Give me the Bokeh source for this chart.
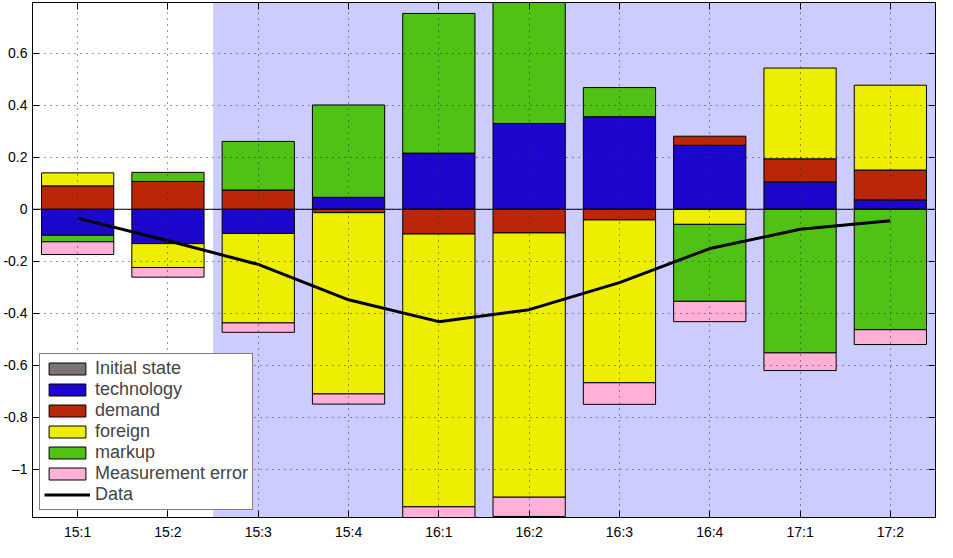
import numpy as np
from bokeh.plotting import figure
from bokeh.models import (Range1d, FixedTicker, LinearAxis, BoxAnnotation, Span,
                          Legend, LegendItem, ColumnDataSource)
from bokeh.embed import file_html
from bokeh.resources import INLINE

periods = ["15:1", "15:2", "15:3", "15:4", "16:1", "16:2", "16:3", "16:4", "17:1", "17:2"]
initial_state = [0.0, 0.0, 0.0, 0.0, 0.0, 0.0, 0.0, 0.0, 0.0, 0.0]
technology = [-0.100, -0.132, -0.093, 0.046, 0.216, 0.330, 0.356, 0.246, 0.105, 0.036]
demand = [0.090, 0.107, 0.074, -0.013, -0.095, -0.091, -0.041, 0.035, 0.089, 0.115]
foreign = [0.050, -0.092, -0.344, -0.697, -1.049, -1.016, -0.626, -0.058, 0.349, 0.326]
markup = [-0.025, 0.035, 0.187, 0.355, 0.537, 0.465, 0.112, -0.296, -0.552, -0.463]
measurement_error = [-0.049, -0.037, -0.036, -0.039, -0.041, -0.074, -0.083, -0.078, -0.068, -0.057]
data = [-0.034, -0.121, -0.212, -0.348, -0.432, -0.386, -0.282, -0.151, -0.077, -0.044]
forecast_start = "15:3"

y_ticks = [-1.0, -0.8, -0.6, -0.4, -0.2, 0.0, 0.2, 0.4, 0.6]
y_tick_labels = ["\u20131", "-0.8", "-0.6", "-0.4", "-0.2", "0", "0.2", "0.4", "0.6"]

series = [
    ("Initial state", initial_state, "#7a7474"),
    ("technology", technology, "#1d06cc"),
    ("demand", demand, "#b92608"),
    ("foreign", foreign, "#eeee00"),
    ("markup", markup, "#50c216"),
    ("Measurement error", measurement_error, "#ffb0d6"),
]

x = np.arange(1, len(periods) + 1)

# stacked tops/bottoms (positive and negative stacked separately)
pos = np.zeros(len(periods))
neg = np.zeros(len(periods))
stacks = []
for name, vals, col in series:
    v = np.array(vals)
    bottom = np.where(v >= 0, pos, neg)
    top = bottom + v
    pos = np.where(v >= 0, top, pos)
    neg = np.where(v < 0, top, neg)
    stacks.append((name, bottom, top, col))

y_min = float(neg.min())
y_max = float(pos.max())

FONT = "Liberation Sans"

p = figure(width=937, height=542, output_backend="svg", toolbar_location=None,
           x_range=Range1d(0.5, len(periods) + 0.5), y_range=Range1d(y_min, y_max),
           min_border_left=0, min_border_right=2, min_border_top=2, min_border_bottom=0,
           background_fill_color="white", border_fill_color="white")
p.outline_line_color = "black"
p.outline_line_width = 1

shade_left = periods.index(forecast_start) + 0.5
p.add_layout(BoxAnnotation(left=shade_left, fill_color="#ccccff", fill_alpha=1.0,
                           line_color=None, level="underlay"))

renderers = {}
for name, bottom, top, col in stacks:
    src = ColumnDataSource(dict(x=x, bottom=bottom, top=top))
    r = p.vbar(x="x", bottom="bottom", top="top", width=0.8, source=src,
               fill_color=col, line_color="black", line_width=1)
    renderers[name] = r

p.add_layout(Span(location=0, dimension="width", line_color="black", line_width=1))

rl = p.line(x, data, line_color="black", line_width=3)

# axes
p.xaxis.ticker = FixedTicker(ticks=list(x))
p.xaxis.major_label_overrides = {int(i): lab for i, lab in zip(x, periods)}
p.yaxis.ticker = FixedTicker(ticks=y_ticks)
p.yaxis.major_label_overrides = {t: lab for t, lab in zip(y_ticks, y_tick_labels)}
for ax in (p.xaxis[0], p.yaxis[0]):
    ax.major_tick_in = 7
    ax.major_tick_out = 0
    ax.minor_tick_line_color = None
    ax.major_label_text_font = FONT
    ax.major_label_text_font_size = "14px"
    ax.major_label_text_color = "black"
    ax.axis_line_color = "black"
    ax.major_tick_line_color = "black"
p.xaxis.major_label_standoff = 6
p.yaxis.major_label_standoff = 5

top_ax = LinearAxis(ticker=FixedTicker(ticks=list(x)), major_tick_in=7, major_tick_out=0,
                    minor_tick_line_color=None, major_label_text_font_size="1px",
                    major_label_text_color=None,
                    major_label_standoff=0, axis_line_color="black")
right_ax = LinearAxis(ticker=FixedTicker(ticks=y_ticks), major_tick_in=7, major_tick_out=0,
                      minor_tick_line_color=None, major_label_text_font_size="1px",
                      major_label_text_color=None,
                      major_label_standoff=0, axis_line_color="black")
p.add_layout(top_ax, "above")
p.add_layout(right_ax, "right")

for g in (p.xgrid[0], p.ygrid[0]):
    g.grid_line_color = "#333333"
    g.grid_line_dash = "1 5"
    g.grid_line_width = 1
    g.level = "guide"
p.xgrid.ticker = FixedTicker(ticks=list(x))
p.ygrid.ticker = FixedTicker(ticks=y_ticks)

items = [LegendItem(label=name, renderers=[renderers[name]]) for name, _, _, _ in stacks]
items.append(LegendItem(label="Data", renderers=[rl]))
legend = Legend(items=items, location="bottom_left", margin=7, padding=4, spacing=0,
                border_line_color="black", border_line_width=1,
                background_fill_color="white", background_fill_alpha=1.0,
                label_text_font=FONT, label_text_font_size="18px",
                glyph_width=46, glyph_height=15, label_height=20, label_standoff=5)
p.add_layout(legend)

open("out.html", "w").write(file_html(p, INLINE))
